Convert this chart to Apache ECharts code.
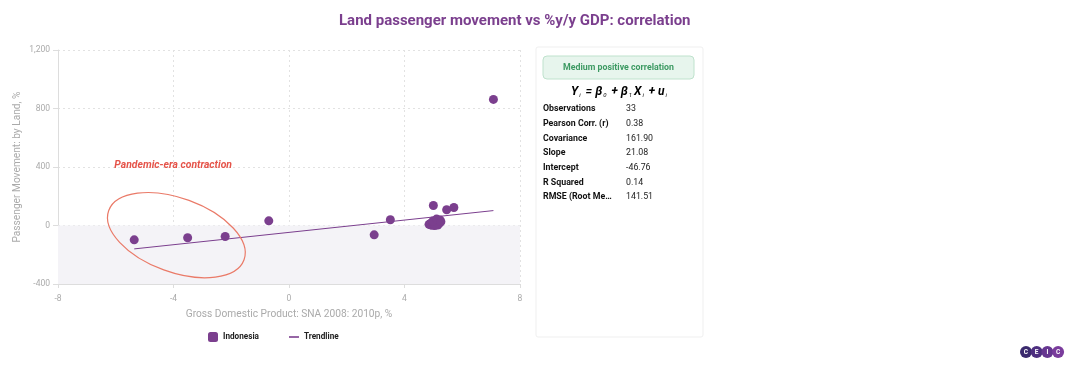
<!DOCTYPE html>
<html><head><meta charset="utf-8">
<script src="https://cdn.jsdelivr.net/npm/echarts@6/dist/echarts.min.js"></script>
<style>html,body{margin:0;padding:0;background:#fff}#c{width:1070px;height:366px}</style>
</head><body><div id="c"></div>
<script>
const titleText = 'Land passenger movement vs %y/y GDP: correlation';
const seriesName = 'Indonesia';
const xName = 'Gross Domestic Product: SNA 2008: 2010p, %';
const yName = 'Passenger Movement: by Land, %';
// [GDP %y/y, Passenger movement %y/y]
const indonesiaPoints = [
  [-5.36,-98],[-3.51,-84],[-2.21,-75],[-0.70,32],[2.95,-64],[3.51,39],
  [5.00,137],[5.46,108],[5.71,123],[7.08,862],
  [4.85,8],[4.90,5],[4.92,15],[4.95,2],[4.97,20],[5.00,10],[5.02,28],[5.03,4],
  [5.05,18],[5.07,33],[5.08,8],[5.10,25],[5.12,12],[5.14,40],[5.15,3],[5.17,22],
  [5.18,30],[5.20,14],[5.23,38],[5.05,0],[4.98,30],[5.11,44],[5.26,26]
];
const trendPoints = [[-5.36,-160],[7.08,102]];
const yTicks = {min:-400, max:1200, interval:400};
const xTicks = {min:-8, max:8, interval:4};
const badgeText = 'Medium positive correlation';
const statLabels = ['Observations','Pearson Corr. (r)','Covariance','Slope','Intercept','R Squared','RMSE (Root Me…'];
const statValues = ['33','0.38','161.90','21.08','-46.76','0.14','141.51'];
const annotText = 'Pandemic-era contraction';
const annotTextPos = [-6.05, 411];
const annotEllipseCenter = [-3.9, -66];

const purple = '#7b3f8e';
const FONT = 'Roboto, "Noto Sans", sans-serif';
const chart = echarts.init(document.getElementById('c'));

const statGraphics = [];
statLabels.forEach((l,i)=>{
  statGraphics.push({type:'text', x:543, y:109 + i*14.7, style:{text:l, font:'bold 8.8px '+FONT, fill:'#111', verticalAlign:'middle'}});
  statGraphics.push({type:'text', x:626, y:109 + i*14.7, style:{text:statValues[i], font:'8.8px '+FONT, fill:'#222', verticalAlign:'middle'}});
});

const logoLetters = ['C','E','I','C'];
const logoColors = ['#3b2a6e','#4e2f80','#663690','#7a3c9c'];
const logoG = logoLetters.map((t,i)=>({
  type:'group', x:1026 + i*10.7, y:352,
  children:[
    {type:'circle', shape:{cx:0,cy:0,r:6}, style:{fill:logoColors[i]}},
    {type:'text', style:{text:t, x:0, y:0.5, align:'center', verticalAlign:'middle', font:'bold 6.5px '+FONT, fill:'#fff'}}
  ]
}));

chart.setOption({
  animation:false,
  textStyle:{fontFamily:FONT},
  title:{text:titleText, left:334, top:9, textStyle:{color:purple, fontSize:15, fontWeight:'bold', fontFamily:FONT}},
  grid:{left:58, top:50, width:462, height:234},
  legend:{left:203, top:327, itemGap:30, itemWidth:10, itemHeight:10, symbolKeepAspect:true,
    textStyle:{fontSize:8.2, fontWeight:'bold', color:'#222', fontFamily:FONT},
    data:[{name:seriesName, icon:'roundRect'},{name:'Trendline', icon:'path://M0,0L10,0L10,1.6L0,1.6Z'}]},
  xAxis:{type:'value', min:xTicks.min, max:xTicks.max, interval:xTicks.interval,
    name:xName, nameLocation:'middle', nameGap:25,
    nameTextStyle:{color:'#aaa', fontSize:10.2, fontFamily:FONT},
    axisLine:{show:true, onZero:false, lineStyle:{color:'#ddd'}},
    axisTick:{show:true, length:4, lineStyle:{color:'#ddd'}},
    axisLabel:{color:'#aaa', fontSize:8.5, margin:10},
    splitLine:{show:true, lineStyle:{type:[2,3], color:'#e2e2e2'}}},
  yAxis:{type:'value', min:yTicks.min, max:yTicks.max, interval:yTicks.interval,
    name:yName, nameLocation:'middle', nameGap:36,
    nameTextStyle:{color:'#aaa', fontSize:10.2, fontFamily:FONT},
    axisLine:{show:true, onZero:false, lineStyle:{color:'#ddd'}},
    axisTick:{show:true, length:5, lineStyle:{color:'#ddd'}},
    axisLabel:{color:'#aaa', fontSize:8.5, margin:8, formatter:v=>v.toLocaleString('en-US')},
    splitLine:{show:true, lineStyle:{type:[2,3], color:'#e2e2e2'}}},
  series:[
    {name:seriesName, type:'scatter', data:indonesiaPoints, symbolSize:9,
      itemStyle:{color:purple, opacity:1},
      markArea:{silent:true, itemStyle:{color:'#f4f3f7'}, data:[[{yAxis:yTicks.min},{yAxis:0}]]},
      z:3},
    {name:'Trendline', type:'line', data:trendPoints, symbol:'none', showSymbol:false,
      lineStyle:{color:purple, width:1}, itemStyle:{color:purple}, z:4}
  ]
});

const tp = chart.convertToPixel({gridIndex:0}, annotTextPos);
const ec = chart.convertToPixel({gridIndex:0}, annotEllipseCenter);

chart.setOption({graphic:[
  {type:'text', x:tp[0], y:tp[1], style:{text:annotText, font:'italic bold 10.4px '+FONT, fill:'#e5544a', verticalAlign:'middle'}},
  {type:'ellipse', x:ec[0], y:ec[1], rotation:-20*Math.PI/180, shape:{cx:0, cy:0, rx:72, ry:37},
    style:{fill:'none', stroke:'#ea7a68', lineWidth:1.2}, z:10},
  {type:'rect', x:536, y:47, shape:{width:167, height:290, r:2}, style:{fill:'#fff', stroke:'#efefef', lineWidth:1}, z:-1},
  {type:'rect', x:543, y:56, shape:{width:151, height:23, r:4}, style:{fill:'#e7f5ed', stroke:'#bfe2cd', lineWidth:1}},
  {type:'text', x:618.5, y:67.5, style:{text:badgeText, align:'center', verticalAlign:'middle', font:'bold 8.8px '+FONT, fill:'#3d9a63'}},
  {type:'text', x:571, y:86, style:{
    text:'{m|Y}{s|i}{m| = β}{s|0}{m| + β}{s|1}{m|X}{s|i}{m| + u}{s|i}',
    rich:{m:{font:'italic bold 12px '+FONT, color:'#111'},
          s:{font:'italic 6px '+FONT, color:'#111', padding:[6,2,0,1]}}}},
  ...statGraphics,
  ...logoG
]});
</script></body></html>
